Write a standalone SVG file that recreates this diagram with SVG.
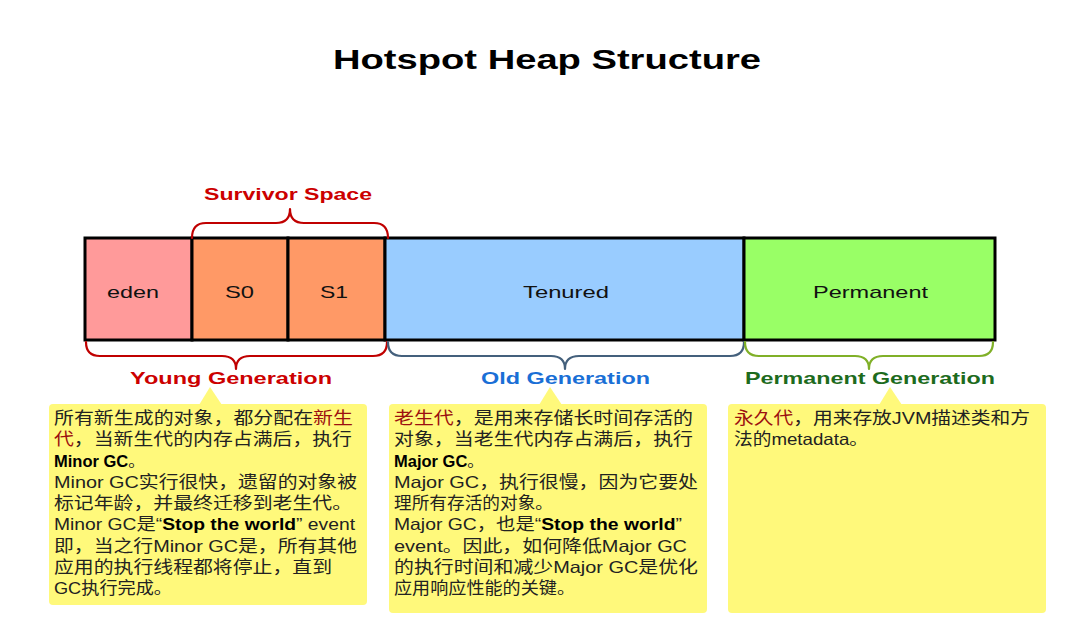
<svg xmlns="http://www.w3.org/2000/svg" width="1072" height="621" viewBox="0 0 1072 621">
<style>
.lbl{font-family:"Liberation Sans",Arial,sans-serif;font-size:17px;fill:#111;}
.hdr{font-family:"Liberation Sans",Arial,sans-serif;font-size:17px;font-weight:bold;}
.note{font-family:"Liberation Sans","Noto Sans CJK SC",sans-serif;font-size:16.5px;fill:#222;}
.b{font-weight:bold;fill:#000;}
.r{fill:#9c1010;}
.cell{stroke:#000;stroke-width:3;}
.brace{fill:none;stroke-width:2.2;stroke-linecap:round;stroke-linejoin:round;}
.box{fill:#fff97b;}
</style>
<rect width="1072" height="621" fill="#fff"/>
<text x="333" y="69" textLength="428" lengthAdjust="spacingAndGlyphs" font-family="Liberation Sans,Arial,sans-serif" font-size="28" font-weight="bold" fill="#000">Hotspot Heap Structure</text>

<g id="eden"><rect class="cell" x="85" y="238" width="107" height="102" fill="#ff9a9a"/><text class="lbl" x="107" y="298" textLength="52" lengthAdjust="spacingAndGlyphs">eden</text></g>
<g id="s0"><rect class="cell" x="192" y="238" width="96" height="102" fill="#ff9966"/><text class="lbl" x="225" y="298" textLength="29" lengthAdjust="spacingAndGlyphs">S0</text></g>
<g id="s1"><rect class="cell" x="288" y="238" width="97" height="102" fill="#ff9966"/><text class="lbl" x="320" y="298" textLength="28" lengthAdjust="spacingAndGlyphs">S1</text></g>
<g id="tenured"><rect class="cell" x="385" y="238" width="359" height="102" fill="#99ccff"/><text class="lbl" x="523" y="298" textLength="86" lengthAdjust="spacingAndGlyphs">Tenured</text></g>
<g id="permanent"><rect class="cell" x="744" y="238" width="251" height="102" fill="#99ff66"/><text class="lbl" x="813" y="298" textLength="115" lengthAdjust="spacingAndGlyphs">Permanent</text></g>

<g id="connectors">
<path class="brace" stroke="#c00000" d="M192,238 Q192,223 206,223 L276,223 Q290,223 290,209 Q290,223 304,223 L374,223 Q388,223 388,238"/>
<path class="brace" stroke="#c00000" d="M86,342 Q86,356 100,356 L222,356 Q236,356 236,369 Q236,356 250,356 L373,356 Q387,356 387,342"/>
<path class="brace" stroke="#44607c" d="M388,342 Q388,356 402,356 L551,356 Q565,356 565,369 Q565,356 579,356 L730,356 Q744,356 744,342"/>
<path class="brace" stroke="#80b028" d="M745,342 Q745,356 759,356 L855,356 Q869,356 869,369 Q869,356 883,356 L979,356 Q993,356 993,342"/>
</g>

<g id="survivor-label"><text class="hdr" x="204" y="200" fill="#cc0000" textLength="168" lengthAdjust="spacingAndGlyphs">Survivor Space</text></g>
<g id="young-label"><text class="hdr" x="130" y="384" fill="#cc0000" textLength="202" lengthAdjust="spacingAndGlyphs">Young Generation</text></g>
<g id="old-label"><text class="hdr" x="481" y="384" fill="#1a6fd6" textLength="169" lengthAdjust="spacingAndGlyphs">Old Generation</text></g>
<g id="perm-label"><text class="hdr" x="745" y="384" fill="#1d6b1d" textLength="250" lengthAdjust="spacingAndGlyphs">Permanent Generation</text></g>

<g id="note-young">
<rect class="box" x="49" y="404" width="318" height="201" rx="4"/>
<polygon class="box" points="199,405 210,387 222,405"/>
<text class="note" x="54" y="424" textLength="299" lengthAdjust="spacingAndGlyphs">所有新生成的对象，都分配在<tspan class="r">新生</tspan></text>
<text class="note" x="54" y="445.25" textLength="298" lengthAdjust="spacingAndGlyphs"><tspan class="r">代</tspan>，当新生代的内存占满后，执行</text>
<text class="note" x="54" y="466.5"><tspan class="b">Minor GC</tspan>。</text>
<text class="note" x="54" y="487.75" textLength="303" lengthAdjust="spacingAndGlyphs">Minor GC实行很快，遗留的对象被</text>
<text class="note" x="54" y="509" textLength="298" lengthAdjust="spacingAndGlyphs">标记年龄，并最终迁移到老生代。</text>
<text class="note" x="54" y="530.25" textLength="301" lengthAdjust="spacingAndGlyphs">Minor GC是“<tspan class="b">Stop the world</tspan>” event</text>
<text class="note" x="54" y="551.5" textLength="303" lengthAdjust="spacingAndGlyphs">即，当之行Minor GC是，所有其他</text>
<text class="note" x="54" y="572.75" textLength="278" lengthAdjust="spacingAndGlyphs">应用的执行线程都将停止，直到</text>
<text class="note" x="54" y="594" textLength="118" lengthAdjust="spacingAndGlyphs">GC执行完成。</text>
</g>

<g id="note-old">
<rect class="box" x="389" y="404" width="318" height="209" rx="4"/>
<polygon class="box" points="539,405 550,387 562,405"/>
<text class="note" x="394" y="424" textLength="299" lengthAdjust="spacingAndGlyphs"><tspan class="r">老生代</tspan>，是用来存储长时间存活的</text>
<text class="note" x="394" y="445.25" textLength="299" lengthAdjust="spacingAndGlyphs">对象，当老生代内存占满后，执行</text>
<text class="note" x="394" y="466.5"><tspan class="b">Major GC</tspan>。</text>
<text class="note" x="394" y="487.75" textLength="304" lengthAdjust="spacingAndGlyphs">Major GC，执行很慢，因为它要处</text>
<text class="note" x="394" y="509" textLength="159" lengthAdjust="spacingAndGlyphs">理所有存活的对象。</text>
<text class="note" x="394" y="530.25" textLength="288" lengthAdjust="spacingAndGlyphs">Major GC，也是“<tspan class="b">Stop the world</tspan>”</text>
<text class="note" x="394" y="551.5" textLength="293" lengthAdjust="spacingAndGlyphs">event。因此，如何降低Major GC</text>
<text class="note" x="394" y="572.75" textLength="304" lengthAdjust="spacingAndGlyphs">的执行时间和减少Major GC是优化</text>
<text class="note" x="394" y="594" textLength="181" lengthAdjust="spacingAndGlyphs">应用响应性能的关键。</text>
</g>

<g id="note-perm">
<rect class="box" x="728" y="404" width="318" height="209" rx="4"/>
<polygon class="box" points="879,405 890,387 902,405"/>
<text class="note" x="734" y="424" textLength="296" lengthAdjust="spacingAndGlyphs"><tspan class="r">永久代</tspan>，用来存放JVM描述类和方</text>
<text class="note" x="734" y="445.25" textLength="134" lengthAdjust="spacingAndGlyphs">法的metadata。</text>
</g>
</svg>
